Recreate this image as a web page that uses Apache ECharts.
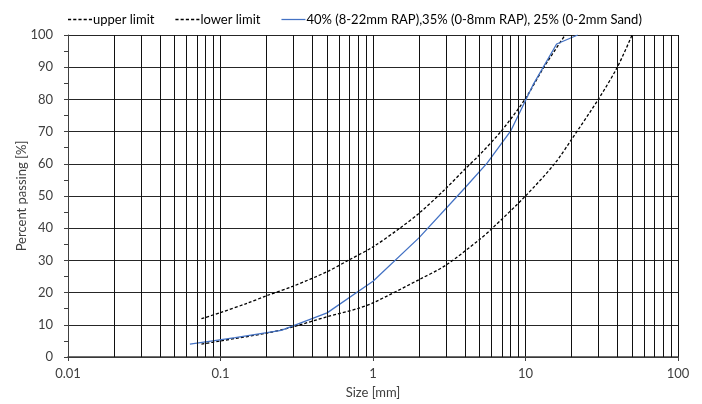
<!DOCTYPE html>
<html>
<head>
<meta charset="utf-8">
<script src="https://cdn.jsdelivr.net/npm/echarts@6/dist/echarts.min.js"></script>
<style>
html,body{margin:0;padding:0;background:#fff;}
#chart{width:702px;height:404px;}
</style>
</head>
<body>
<div id="chart"></div>
<script>
// Sieve sizes [mm] and percent passing
const upperLimit = [
  [0.075, 11.9], [0.1, 13.8], [0.15, 16.7], [0.2, 19.0], [0.3, 22.0], [0.5, 26.5],
  [0.7, 30.2], [1, 34.2], [1.5, 40.0], [2, 44.6], [3, 52.3], [4, 58.3], [5, 62.8],
  [7, 70.4], [10, 80.3], [13.2, 90.0], [18.2, 100]
];
const lowerLimit = [
  [0.075, 4.0], [0.1, 5.0], [0.2, 7.4], [0.3, 9.4], [0.5, 12.5], [0.8, 15.1],
  [1, 16.8], [2, 24.0], [3, 28.5], [5, 36.5], [6, 39.8], [10, 50.0], [15.5, 60.0],
  [20, 67.5], [30, 80.0], [40, 90.0], [50, 100]
];
const mixture = [
  [0.063, 4.0], [0.125, 6.0], [0.25, 8.3], [0.5, 13.7], [1, 23.5], [2, 37.0],
  [4, 52.5], [5.6, 60.2], [8, 70.2], [11.2, 84.5], [16, 97.2], [22, 100]
];
const seriesNames = ['upper limit', 'lower limit', '40% (8-22mm RAP),35% (0-8mm RAP), 25% (0-2mm Sand)'];
const xTickLabels = ['0.01', '0.1', '1', '10', '100'];
const minorGrid = [
  0.02,0.03,0.04,0.05,0.06,0.07,0.08,0.09,
  0.2,0.3,0.4,0.5,0.6,0.7,0.8,0.9,
  2,3,4,5,6,7,8,9,
  20,30,40,50,60,70,80,90
];

const FONT = 'Lato';
const dashIcon = 'path://M0,0h3v1.2h-3z M5,0h3v1.2h-3z M10,0h3v1.2h-3z M15,0h3v1.2h-3z M20,0h3v1.2h-3z';
const solidIcon = 'path://M0,0h23v1.2h-23z';
const chart = echarts.init(document.getElementById('chart'), null, {renderer:'canvas'});
chart.setOption({
  animation: false,
  backgroundColor: '#fff',
  textStyle: {fontFamily: FONT},
  legend: {
    data: [
      {name: seriesNames[0], icon: dashIcon},
      {name: seriesNames[1], icon: dashIcon},
      {name: seriesNames[2], icon: solidIcon}
    ],
    top: 8, left: 63,
    itemWidth: 24, itemHeight: 12, itemGap: 21,
    textStyle: {fontFamily: FONT, fontSize: 13, color: '#000', padding: [0,0,0,-4]}
  },
  grid: {left: 68, right: 24, top: 35, bottom: 47, outerBoundsMode: 'none', containLabel: false},
  xAxis: {
    type: 'log', logBase: 10, min: 0.01, max: 100,
    name: 'Size [mm]', nameLocation: 'middle', nameGap: 29, nameMoveOverlap: false,
    nameTextStyle: {fontFamily: FONT, fontSize: 13, color: '#404040'},
    axisLine: {show: true, lineStyle: {color: '#404040', width: 1.5}},
    axisTick: {show: true, length: 4, lineStyle: {color: '#404040'}},
    axisLabel: {
      fontFamily: FONT, fontSize: 13, color: '#404040', margin: 10,
      formatter: function (v) {
        const i = Math.round(Math.log10(v)) + 2;
        return xTickLabels[i] !== undefined ? xTickLabels[i] : '';
      }
    },
    splitLine: {show: true, lineStyle: {color: '#111', width: 1}}
  },
  yAxis: {
    type: 'value', min: 0, max: 100, interval: 10,
    name: 'Percent passing [%]', nameLocation: 'middle', nameGap: 40, nameMoveOverlap: false,
    nameTextStyle: {fontFamily: FONT, fontSize: 13, color: '#404040'},
    axisLine: {show: true, lineStyle: {color: '#404040', width: 1}},
    axisTick: {show: true, length: 4, lineStyle: {color: '#404040'}},
    minorTick: {show: true, splitNumber: 2, length: 4, lineStyle: {color: '#404040'}},
    axisLabel: {fontFamily: FONT, fontSize: 13, color: '#404040', margin: 15},
    splitLine: {show: true, lineStyle: {color: '#262626', width: 1}}
  },
  series: [
    {
      name: 'grid', type: 'line', data: [], z: 1, silent: true,
      markLine: {
        silent: true, symbol: 'none', animation: false,
        label: {show: false},
        lineStyle: {type: 'solid', color: '#111', width: 1},
        data: minorGrid.map(v => ({xAxis: v}))
      }
    },
    {
      name: seriesNames[0], type: 'line', data: upperLimit, showSymbol: false, symbol: 'none',
      smooth: 0.3, z: 3,
      lineStyle: {color: '#000', width: 1.3, type: [3, 2]},
      itemStyle: {color: '#000'}
    },
    {
      name: seriesNames[1], type: 'line', data: lowerLimit, showSymbol: false, symbol: 'none',
      smooth: 0.3, z: 3,
      lineStyle: {color: '#000', width: 1.3, type: [3, 2]},
      itemStyle: {color: '#000'}
    },
    {
      name: seriesNames[2], type: 'line', data: mixture, showSymbol: false, symbol: 'none',
      z: 4,
      lineStyle: {color: '#4472C4', width: 1.3},
      itemStyle: {color: '#4472C4'}
    }
  ]
});
</script>
</body>
</html>
